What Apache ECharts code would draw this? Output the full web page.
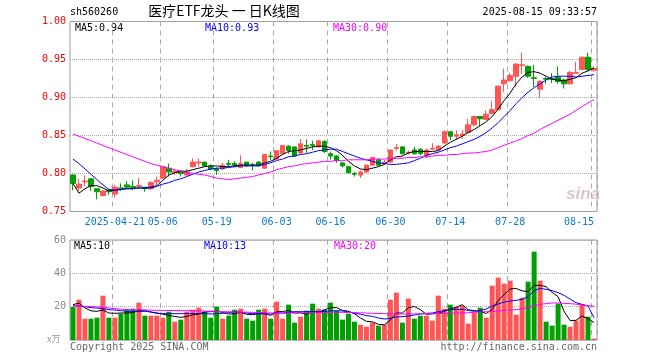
<!DOCTYPE html>
<html><head><meta charset="utf-8">
<script src="https://cdn.jsdelivr.net/npm/echarts@6/dist/echarts.min.js"></script>
<style>html,body{margin:0;padding:0;background:#fff}#c{width:660px;height:360px}</style>
</head><body><div id="c"></div>
<script>
const dates = [
'2025-04-10','2025-04-11','2025-04-14','2025-04-15','2025-04-16','2025-04-17','2025-04-18','2025-04-21','2025-04-22','2025-04-23',
'2025-04-24','2025-04-25','2025-04-28','2025-04-29','2025-04-30','2025-05-06','2025-05-07','2025-05-08','2025-05-09','2025-05-12',
'2025-05-13','2025-05-14','2025-05-15','2025-05-16','2025-05-19','2025-05-20','2025-05-21','2025-05-22','2025-05-23','2025-05-26',
'2025-05-27','2025-05-28','2025-05-29','2025-05-30','2025-06-03','2025-06-04','2025-06-05','2025-06-06','2025-06-09','2025-06-10',
'2025-06-11','2025-06-12','2025-06-13','2025-06-16','2025-06-17','2025-06-18','2025-06-19','2025-06-20','2025-06-23','2025-06-24',
'2025-06-25','2025-06-26','2025-06-27','2025-06-30','2025-07-01','2025-07-02','2025-07-03','2025-07-04','2025-07-07','2025-07-08',
'2025-07-09','2025-07-10','2025-07-11','2025-07-14','2025-07-15','2025-07-16','2025-07-17','2025-07-18','2025-07-21','2025-07-22',
'2025-07-23','2025-07-24','2025-07-25','2025-07-28','2025-07-29','2025-07-30','2025-07-31','2025-08-01','2025-08-04','2025-08-05',
'2025-08-06','2025-08-07','2025-08-08','2025-08-11','2025-08-12','2025-08-13','2025-08-14','2025-08-15'];
const tickDates = ['2025-04-21','2025-05-06','2025-05-19','2025-06-03','2025-06-16','2025-06-30','2025-07-14','2025-07-28','2025-08-15'];

const open = [
.798,.781,.789,.793,.780,.771,.778,.773,.781,.785,
.783,.783,.782,.780,.789,.794,.807,.801,.803,.798,
.809,.814,.815,.810,.806,.806,.813,.813,.808,.815,
.812,.815,.807,.823,.819,.826,.836,.835,.827,.837,
.838,.835,.842,.826,.823,.814,.809,.800,.798,.802,
.811,.818,.814,.815,.833,.835,.827,.831,.832,.824,
.832,.831,.840,.855,.849,.850,.854,.864,.875,.871,
.879,.884,.918,.922,.928,.942,.941,.926,.911,.925,
.925,.927,.923,.918,.932,.937,.953,.936];
const close = [
.787,.786,.790,.783,.776,.777,.776,.782,.780,.782,
.781,.784,.780,.788,.791,.809,.802,.803,.800,.802,
.815,.815,.810,.806,.804,.811,.812,.811,.813,.810,
.811,.810,.825,.822,.830,.837,.830,.823,.839,.836,
.837,.843,.829,.823,.817,.810,.801,.799,.802,.811,
.821,.811,.815,.831,.834,.826,.828,.826,.826,.831,
.833,.836,.855,.849,.851,.852,.864,.875,.872,.878,
.884,.915,.923,.929,.944,.943,.928,.925,.921,.924,
.924,.921,.918,.933,.933,.953,.937,.938];
const low = [
.778,.777,.783,.777,.766,.770,.772,.768,.777,.780,
.778,.780,.776,.778,.785,.793,.796,.798,.796,.797,
.808,.809,.809,.804,.798,.805,.809,.808,.807,.809,
.804,.809,.806,.818,.818,.826,.826,.822,.826,.827,
.831,.834,.827,.818,.814,.808,.800,.796,.794,.801,
.810,.810,.811,.814,.830,.825,.825,.825,.824,.820,
.831,.830,.839,.844,.844,.846,.853,.862,.862,.870,
.878,.883,.907,.921,.914,.931,.926,.914,.900,.918,
.919,.918,.912,.917,.932,.936,.935,.934];
const high = [
.799,.793,.797,.794,.780,.778,.779,.785,.787,.790,
.791,.794,.782,.790,.796,.810,.813,.806,.804,.806,
.820,.820,.815,.812,.808,.814,.818,.816,.824,.815,
.814,.816,.825,.829,.831,.837,.837,.835,.845,.845,
.843,.844,.844,.829,.824,.815,.810,.802,.804,.812,
.821,.820,.818,.831,.839,.836,.830,.835,.833,.833,
.840,.837,.857,.856,.857,.857,.872,.875,.875,.883,
.895,.915,.938,.932,.945,.959,.942,.943,.923,.927,
.932,.941,.925,.935,.947,.954,.959,.941];

const ma5 = [
.787,.774,.780,.784,.784,.781,.777,.778,.779,.780,
.780,.781,.781,.782,.784,.791,.798,.801,.803,.803,
.805,.807,.809,.810,.810,.809,.809,.810,.811,.811,
.811,.811,.814,.816,.820,.825,.829,.830,.831,.833,
.835,.836,.836,.834,.830,.824,.816,.810,.806,.805,
.807,.809,.812,.818,.822,.823,.827,.829,.829,.829,
.829,.830,.836,.841,.845,.849,.854,.858,.863,.868,
.875,.885,.896,.906,.918,.927,.933,.934,.932,.928,
.924,.923,.922,.924,.926,.932,.935,.939];
const ma10 = [
.819,.813,.806,.799,.792,.785,.779,.778,.779,.780,
.780,.781,.781,.781,.783,.786,.788,.791,.793,.796,
.799,.802,.804,.806,.807,.807,.808,.809,.810,.810,
.810,.810,.812,.814,.817,.819,.822,.823,.825,.826,
.828,.830,.831,.832,.832,.829,.826,.823,.820,.818,
.816,.814,.813,.812,.812,.813,.814,.817,.820,.824,
.826,.828,.831,.834,.836,.839,.842,.845,.849,.854,
.860,.867,.875,.883,.892,.900,.907,.913,.918,.923,
.927,.928,.928,.928,.927,.928,.929,.930];
const ma30 = [
.852,.849,.846,.843,.840,.837,.834,.831,.828,.825,
.822,.819,.816,.813,.811,.809,.807,.805,.803,.801,
.800,.799,.798,.796,.794,.793,.792,.793,.794,.795,
.796,.798,.800,.802,.805,.807,.809,.810,.812,.813,
.814,.815,.816,.816,.817,.817,.818,.818,.818,.818,
.819,.819,.819,.820,.820,.820,.821,.821,.822,.822,
.823,.824,.824,.825,.825,.826,.827,.827,.828,.829,
.831,.834,.837,.840,.843,.846,.850,.853,.858,.862,
.866,.870,.874,.878,.883,.888,.893,.897];

const volume = [
19.8,24.2,12.8,12.8,13.4,26.6,13.4,13.4,15.8,18.2,
18.8,22.4,14.6,14.6,14.6,13.4,17,11,12.2,17,
18.2,19.4,17,13.4,20,12.8,14.6,18.2,18.8,12.8,
11.6,18.2,18.8,12.8,23,12.8,21.2,10.4,14,17.6,
21.8,18.8,18.2,22.4,17.6,12.2,15.8,11,9.2,8,
10.4,8.6,9.2,24.2,28.4,10.4,24.8,12.8,14.6,14.6,
11.6,26.6,18.8,21.2,20,20.6,9.8,16.4,19.4,13.4,
32.6,37.4,33.8,35.6,15.2,25.4,35,53,35.6,11,
8.6,21.8,9.2,8,11.6,21.2,14,0.8];
const volMa5 = [
21.2,22.2,19.2,17.5,17.2,18,16.2,16,16.2,16.2,
16.5,17.7,17.8,16.8,16.2,15.5,14.8,14.1,13.6,14.1,
15.1,15.6,16.8,17,17.4,16.5,15.6,15.8,16.6,15.4,
15.2,15.8,16,14.8,16.9,17.1,17.7,16.2,16.3,15.4,
17,16.6,18.1,19.4,19.4,17.8,17.2,15.8,13.2,11.2,
10.9,9.4,9.1,12.1,16.2,16.2,19.4,20.1,18.2,15.4,
15.7,16,17.2,18.6,19.6,21.2,18.1,17.6,17.2,15.9,
18.3,23.8,27.3,30.6,30.9,29.5,29,32.8,32.8,32,
28.6,26,17.2,11.7,11.8,14.4,12.8,10.5];
const volMa10 = [
20.6,20.4,20,19.4,19.2,18.8,18.2,18,17.6,17.2,
17.2,17.2,17.2,16.8,16,15.8,15.8,15.8,15.8,15.8,
15.8,15.8,15.8,15.6,15.8,16,16.4,17,16.6,16.2,
15.8,15.8,15.6,15.6,16.2,16.2,16.6,17,17,17,
17,17,17.2,17.4,17.6,17.4,17,16,15.5,14.6,
14.2,13.2,12.6,13,13.8,14,14.4,15,15.6,16,
16.2,17,17.6,18.2,18.4,18.4,17.8,17.2,17.6,18.6,
20.4,21.6,22.8,23.4,23.8,24.4,26,29.6,31,30.4,
29.6,28.4,26.8,24.6,22.4,21.4,20.4,13.4];
const volMa30 = [
20.6,20.4,20.2,20,19.8,19.6,19.2,18.8,18.5,18.3,
18.2,18.1,18,17.9,17.8,17.8,17.7,17.7,17.6,17.6,
17.6,17.5,17.4,17.3,17.2,17,16.9,16.8,16.7,16.7,
16.6,16.5,16.4,16.2,16.1,16,16.1,16.2,16.3,16.3,
16.4,16.5,16.5,16.6,16.6,16.6,16.5,16.4,16.3,16.2,
16,15.9,15.8,15.7,15.7,15.6,15.6,15.7,15.7,15.8,
15.8,15.9,16,16.1,16.2,16.2,16.4,16.6,16.8,17,
17.2,17.4,17.7,18,18.2,18.7,19.6,20.5,21.4,21.8,
22.2,22.2,22,21.8,21.5,21,20.6,20.2];

const mono = '"DejaVu Sans Mono","Liberation Mono",monospace';
const UP = '#ff5555', DOWN = '#00a000';
const tickSet = new Set(tickDates);
const showTick = (i, v) => tickSet.has(v !== undefined ? v : dates[i]);
const last = dates.length - 1;

const chart = echarts.init(document.getElementById('c'));
const dashed = {show: true, interval: showTick, lineStyle: {color: '#aaa', width: 1, type: [5, 4]}};
const lineS = (data, color, xi, yi) => ({
  type: 'line', data, xAxisIndex: xi, yAxisIndex: yi, symbol: 'none', silent: true,
  color, lineStyle: {color, width: 1}, emphasis: {disabled: true}, animation: false
});
const txt = (x, y, text, color, size, align, font) => ({
  type: 'text', x, y, silent: true,
  style: {text, fill: color, fontSize: size, fontFamily: font || mono, align: align || 'left', verticalAlign: 'top'}
});

chart.setOption({
  animation: false,
  grid: [
    {left: 70, top: 21.5, width: 527, height: 190, show: true, borderColor: '#999', borderWidth: 1},
    {left: 70, top: 240, width: 527, height: 100, show: true, borderColor: '#999', borderWidth: 1}
  ],
  xAxis: [
    {type: 'category', gridIndex: 0, data: dates, boundaryGap: true,
     axisLine: {show: false}, axisTick: {show: false},
     axisLabel: {interval: showTick, color: '#0a7ad0', fontFamily: mono, fontSize: 10, margin: 6, alignMaxLabel: 'right',
       formatter: v => v === tickDates[0] ? v : v.slice(5)},
     splitLine: dashed},
    {type: 'category', gridIndex: 1, data: dates, boundaryGap: true,
     axisLine: {show: false}, axisTick: {show: false}, axisLabel: {show: false},
     splitLine: dashed}
  ],
  yAxis: [
    {type: 'value', gridIndex: 0, min: 0.75, max: 1.0, interval: 0.05,
     axisLine: {show: false}, axisTick: {show: false},
     axisLabel: {color: '#ff0000', fontFamily: mono, fontSize: 10, margin: 4, formatter: v => v.toFixed(2)},
     splitLine: {lineStyle: {color: '#aaa', type: 'dotted'}}},
    {type: 'value', gridIndex: 1, min: 0, max: 60, interval: 20,
     axisLine: {show: false}, axisTick: {show: false},
     axisLabel: {color: '#888', fontFamily: mono, fontSize: 10, margin: 4, formatter: v => v === 0 ? '' : String(v)},
     splitLine: {lineStyle: {color: '#aaa', type: 'dotted'}}}
  ],
  series: [
    {type: 'candlestick', xAxisIndex: 0, yAxisIndex: 0, barWidth: 5, silent: true,
     data: dates.map((d, i) => [open[i], close[i], low[i], high[i]]),
     itemStyle: {color: UP, color0: DOWN, borderColor: UP, borderColor0: DOWN, borderWidth: 1}},
    lineS(ma5, '#000000', 0, 0),
    lineS(ma10, '#0000ff', 0, 0),
    lineS(ma30, '#ff00ff', 0, 0),
    {type: 'bar', xAxisIndex: 1, yAxisIndex: 1, barWidth: 5, silent: true,
     data: volume.map((v, i) => ({value: v, itemStyle: {color: close[i] >= open[i] ? UP : DOWN}}))},
    lineS(volMa5, '#000000', 1, 1),
    lineS(volMa10, '#0000ff', 1, 1),
    lineS(volMa30, '#ff00ff', 1, 1)
  ],
  graphic: [
    txt(70, 7, 'sh560260', '#000', 10),
    txt(224, 4, '医疗ETF龙头 一 日K线图', '#000', 14, 'center', '"Noto Sans CJK SC",sans-serif'),
    txt(597, 7, '2025-08-15 09:33:57', '#000', 10, 'right'),
    txt(75, 23, 'MA5:' + ma5[last].toFixed(2), '#000', 10),
    txt(205, 23, 'MA10:' + ma10[last].toFixed(2), '#0000ff', 10),
    txt(333, 23, 'MA30:' + ma30[last].toFixed(2), '#ff00ff', 10),
    txt(74, 241, 'MA5:' + Math.floor(volMa5[last]), '#000', 10),
    txt(204, 241, 'MA10:' + Math.floor(volMa10[last]), '#0000ff', 10),
    txt(334, 241, 'MA30:' + Math.floor(volMa30[last]), '#ff00ff', 10),
    txt(70, 342, 'Copyright 2025 SINA.COM', '#666', 10),
    txt(597, 342, 'http://finance.sina.com.cn', '#666', 10, 'right'),
    txt(47, 334, 'x万', '#999', 9, 'left', '"Noto Sans CJK SC",sans-serif'),
    {type: 'text', x: 566, y: 186, silent: true,
     style: {text: 'sina', fill: '#dcc8c8', fontSize: 17, fontStyle: 'italic', fontWeight: 'bold', fontFamily: 'Liberation Sans,sans-serif'}}
  ]
});
</script>
</body></html>
